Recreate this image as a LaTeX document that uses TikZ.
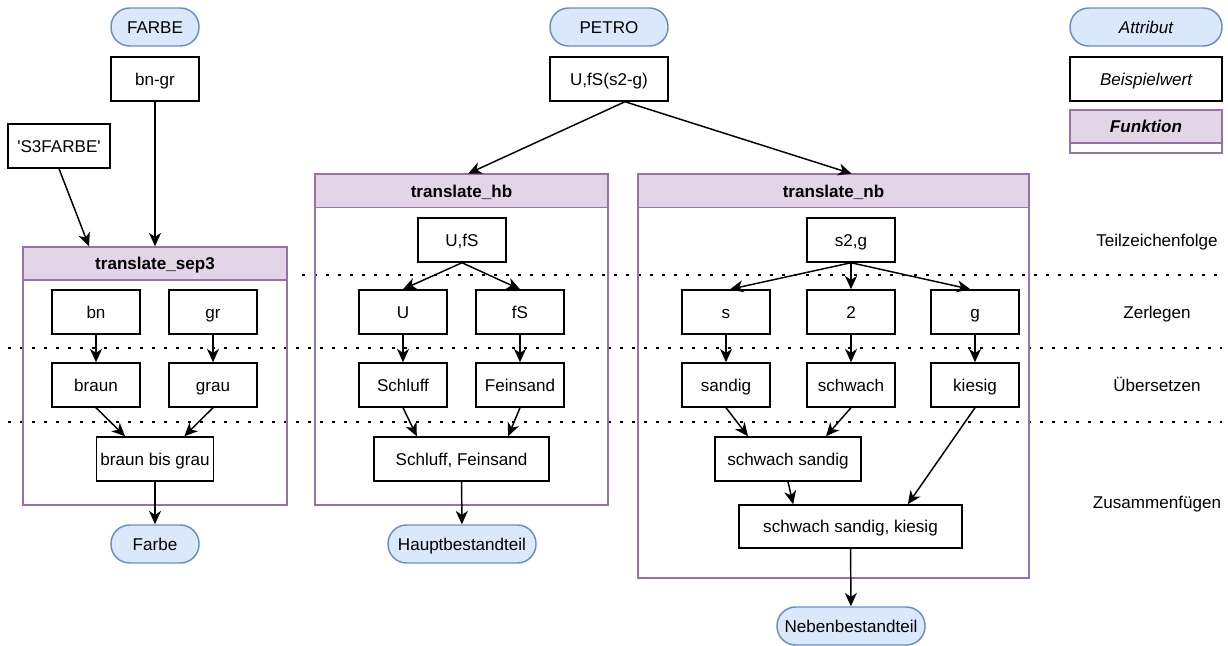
\documentclass[tikz,border=0pt]{standalone}
\usepackage{fontspec}
\setmainfont{Liberation Sans}
\usetikzlibrary{arrows.meta}
\definecolor{attrfill}{HTML}{DAE8FC}
\definecolor{attrdraw}{HTML}{6C8EBF}
\definecolor{funcfill}{HTML}{E1D5E7}
\definecolor{funcdraw}{HTML}{9673A6}

\begin{document}
\begin{tikzpicture}[x=0.75pt,y=-0.75pt,
    font=\fontsize{12.8}{15}\selectfont,
    every node/.style={text height=10.4pt,text depth=1.3pt},
    attr/.style={draw=attrdraw,fill=attrfill,line width=1.1pt,rounded corners=14pt,minimum width=66pt,minimum height=28.5pt,inner sep=1pt},
    val/.style={draw,line width=1.1pt,minimum width=66pt,minimum height=33pt,inner sep=1pt},
    funchead/.style={draw=funcdraw,fill=funcfill,line width=1.1pt,minimum height=25pt,font=\fontsize{12.8}{15}\selectfont\bfseries},
    funcframe/.style={draw=funcdraw,line width=1.1pt},
    sepline/.style={line width=2.2pt,dash pattern=on 2.2pt off 6.8pt},
    arr/.style={-{Stealth[length=10pt,width=9pt,inset=3pt]},line width=1.1pt}]
  \path[fill=white] (0,0) rectangle (1228,643);

  % dotted separators between the steps
  \draw[sepline] (302,275) -- (1222,275);
  \draw[sepline] (8,348) -- (1222,348);
  \draw[sepline] (8,422) -- (1222,422);

  % function frames
  \draw[funcframe] (23,247) rectangle (287,505);
  \node[funchead,minimum width=198pt,minimum height=24.75pt] (sep3head) at (155,263.5) {translate\_sep3};
  \draw[funcframe] (315,174) rectangle (608,505);
  \node[funchead,minimum width=219.75pt] (hbhead) at (461.5,191) {translate\_hb};
  \draw[funcframe] (638,174) rectangle (1029,578);
  \node[funchead,minimum width=293.25pt] (nbhead) at (833.5,191) {translate\_nb};

  % FARBE
  \node[attr] (farbe) at (155,27) {FARBE};
  \node[val] (bngr) at (155,79) {bn-gr};
  \node[val,minimum width=76.5pt] (s3farbe) at (59,146) {\textquotesingle S3FARBE\textquotesingle};
  \node[val] (bn) at (96,312) {bn};
  \node[val] (gr) at (213,312) {gr};
  \node[val] (braun) at (96,385) {braun};
  \node[val] (grau) at (213,385) {grau};
  \node[val,minimum width=87.75pt,inner sep=0pt] (bbg) at (155,459) {braun bis grau};
  \node[attr] (farbeout) at (155,544) {Farbe};

  \draw[arr] (s3farbe.south) -- ([xshift=-49.5pt]sep3head.north);
  \draw[arr] (bngr) -- (sep3head);
  \draw[arr] (bn) -- (braun);
  \draw[arr] (gr) -- (grau);
  \draw[arr] (braun.south) -- ([xshift=-22.5pt]bbg.north);
  \draw[arr] (grau.south) -- ([xshift=22pt]bbg.north);
  \draw[arr] (bbg) -- (farbeout);

  % PETRO
  \node[attr,minimum width=88.5pt] (petro) at (609,27) {PETRO};
  \node[val,minimum width=88.5pt] (petroval) at (609,79) {U,fS(s2-g)};
  \draw[arr] ([xshift=12pt]petroval.south) -- ([xshift=5pt]hbhead.north);
  \draw[arr] ([xshift=12pt]petroval.south) -- ([xshift=13.5pt]nbhead.north);

  % Hauptbestandteil
  \node[val] (ufs) at (462,240) {U,fS};
  \node[val] (u) at (403,312) {U};
  \node[val] (fs) at (520,312) {fS};
  \node[val] (schluff) at (403,385) {Schluff};
  \node[val] (feinsand) at (520,385) {Feinsand};
  \node[val,minimum width=131.25pt] (sf) at (461.5,459) {Schluff, Feinsand};
  \node[attr,minimum width=111pt] (haupt) at (462,544) {Hauptbestandteil};

  \draw[arr] (ufs.south) -- (u.north);
  \draw[arr] (ufs.south) -- (fs.north);
  \draw[arr] (u) -- (schluff);
  \draw[arr] (fs) -- (feinsand);
  \draw[arr] (schluff.south) -- ([xshift=-33.5pt]sf.north);
  \draw[arr] (feinsand.south) -- ([xshift=35pt]sf.north);
  \draw[arr] (sf) -- (haupt);

  % Nebenbestandteil
  \node[val] (s2g) at (851,240) {s2,g};
  \node[val] (s) at (726,312) {s};
  \node[val] (zwei) at (851,312) {2};
  \node[val] (g) at (975,312) {g};
  \node[val] (sandig) at (726,385) {sandig};
  \node[val] (schwach) at (851,385) {schwach};
  \node[val] (kiesig) at (975,385) {kiesig};
  \node[val,minimum width=109.5pt] (ss) at (788,459) {schwach sandig};
  \node[val,minimum width=167.25pt,minimum height=32.25pt] (ssk) at (850.5,526.5) {schwach sandig, kiesig};
  \node[attr,minimum width=111pt] (neben) at (851,626) {Nebenbestandteil};

  \draw[arr] (s2g.south) -- ([xshift=3pt]s.north);
  \draw[arr] (s2g.south) -- (zwei.north);
  \draw[arr] (s2g.south) -- ([xshift=-3.5pt]g.north);
  \draw[arr] (s) -- (sandig);
  \draw[arr] (zwei) -- (schwach);
  \draw[arr] (g) -- (kiesig);
  \draw[arr] (sandig.south) -- ([xshift=-30pt]ss.north);
  \draw[arr] (schwach.south) -- ([xshift=28.5pt]ss.north);
  \draw[arr] (ss.south) -- ([xshift=-43pt]ssk.north);
  \draw[arr] (kiesig.south) -- ([xshift=43pt]ssk.north);
  \draw[arr] (ssk) -- (neben);

  % step labels
  \node (teil) at (1157,240) {Teilzeichenfolge};
  \node (zerl) at (1157,312) {Zerlegen};
  \node (ueber) at (1157,385) {Übersetzen};
  \node (zusam) at (1157,502) {Zusammenfügen};

  % legend
  \node[attr,minimum width=114pt] (legattr) at (1146,27) {\itshape Attribut};
  \node[val,minimum width=114pt] (legval) at (1146,79) {\itshape Beispielwert};
  \draw[funcframe] (1070,110) rectangle (1222,153);
  \node[funchead,minimum width=114pt,minimum height=24.75pt] (legfunc) at (1146,126.5) {\itshape Funktion};
\end{tikzpicture}
\end{document}
